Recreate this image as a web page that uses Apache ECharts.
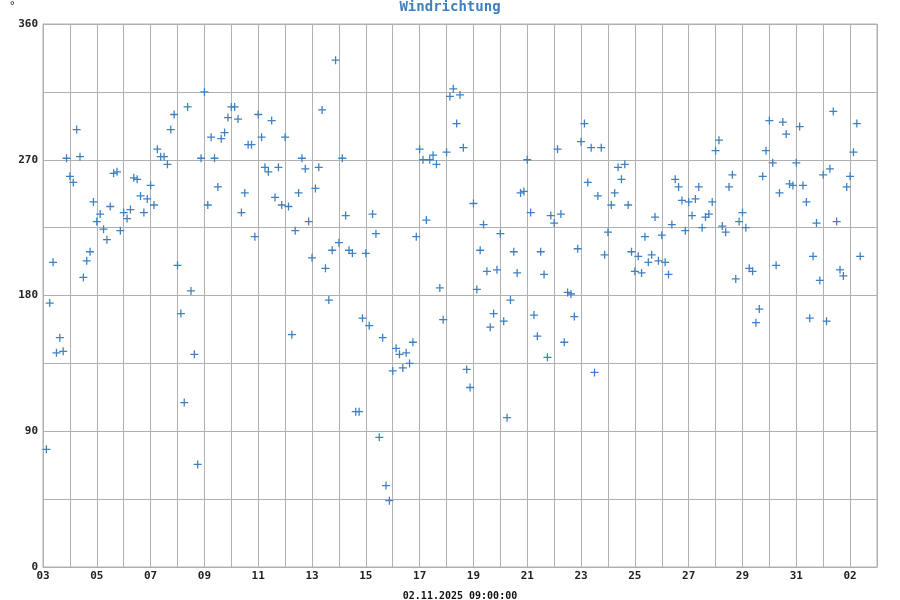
<!DOCTYPE html>
<html><head><meta charset="utf-8">
<script src="https://cdn.jsdelivr.net/npm/echarts@6/dist/echarts.min.js"></script>
<style>html,body{margin:0;padding:0;background:#fff}#c{width:900px;height:600px}</style>
</head><body><div id="c"></div>
<script>
// Chart text
const titleText = 'Windrichtung';
const xAxisName = '02.11.2025 09:00:00';
const yUnit = '°';
// Time: first reading Oct 3 2025 03:00 (UTC), one reading every 3 hours
const startTime = Date.UTC(2025, 9, 3, 3, 0, 0);
const stepHours = 3;
const axisStart = Date.UTC(2025, 9, 3);
const axisEnd = Date.UTC(2025, 10, 3);
const yTicks = [0, 90, 180, 270, 360];
// Wind direction values (degrees), in time order
const direction = [
 78,175,202,142,152,143,271,259,255,290,272,192,203,209,242,229,234,224,217,239,
 261,262,223,235,231,237,258,257,246,235,244,253,240,277,272,272,267,290,300,200,
 168,109,305,183,141,68,271,315,240,285,271,252,284,288,298,305,305,297,235,248,
 280,280,219,300,285,265,262,296,245,265,240,285,239,154,223,248,271,264,229,205,
 251,265,303,198,177,210,336,215,271,233,210,208,103,103,165,208,160,234,221,86,
 152,54,44,130,145,141,132,142,135,149,219,277,270,230,270,273,267,185,164,275,
 312,317,294,313,278,131,119,241,184,210,227,196,159,168,197,221,163,99,177,209,
 195,248,249,270,235,167,153,209,194,139,233,228,277,234,149,182,181,166,211,282,
 294,255,278,129,246,278,207,222,240,248,265,257,267,240,209,196,206,195,219,202,
 207,232,203,220,202,194,227,257,252,243,223,242,233,244,252,225,232,234,242,276,
 283,226,222,252,260,191,229,235,225,198,196,162,171,259,276,296,268,200,248,295,
 287,254,253,268,292,253,242,165,206,228,190,260,163,264,302,229,197,193,252,259,
 275,294,206
];

const DAY = 86400000;
const seriesData = direction.map((v, i) => [startTime + i * stepHours * 3600000, v]);
const labelFont = 'DejaVu Sans Mono';

const chart = echarts.init(document.getElementById('c'), null, {renderer: 'canvas'});
chart.setOption({
  animation: false,
  backgroundColor: '#fff',
  title: {
    text: titleText, left: 'center', top: -5,
    textStyle: {fontFamily: labelFont, fontWeight: 'bold', fontSize: 14, color: '#3f80c0'}
  },
  graphic: [{
    type: 'text', left: 9, top: 1,
    style: {text: yUnit, font: '11px "DejaVu Sans Mono"', fill: '#222'}
  }],
  grid: {left: 43, right: 23, top: 24, bottom: 33, outerBoundsMode: 'none', containLabel: false,
         show: true, borderColor: '#b0b0b0', borderWidth: 1},
  xAxis: {
    type: 'value', min: axisStart, max: axisEnd, interval: DAY,
    name: xAxisName, nameLocation: 'middle', nameGap: 24,
    nameTextStyle: {fontFamily: labelFont, fontWeight: 'bold', fontSize: 10, color: '#111'},
    axisLine: {show: true, lineStyle: {color: '#b0b0b0'}},
    axisTick: {show: false},
    splitLine: {show: true, lineStyle: {color: '#b0b0b0', width: 1}},
    axisLabel: {
      fontFamily: labelFont, fontWeight: 'bold', fontSize: 11, color: '#222', margin: 4,
      showMaxLabel: false,
      formatter: function (v) {
        const d = Math.round((v - axisStart) / DAY);
        if (d % 2 !== 0) return '';
        const day = new Date(v).getUTCDate();
        return (day < 10 ? '0' : '') + day;
      }
    }
  },
  yAxis: {
    type: 'value', min: 0, max: 360, interval: 45,
    axisLine: {show: true, lineStyle: {color: '#b0b0b0'}},
    axisTick: {show: false},
    splitLine: {show: true, lineStyle: {color: '#b0b0b0', width: 1}},
    axisLabel: {
      fontFamily: labelFont, fontWeight: 'bold', fontSize: 11, color: '#222', margin: 5,
      formatter: function (v) { return yTicks.indexOf(v) >= 0 ? String(v) : ''; }
    }
  },
  series: [{
    type: 'scatter',
    data: seriesData,
    symbol: 'path://M4.2,0h1.6v10h-1.6zM0,4.2h10v1.6h-10z',
    symbolSize: 8,
    itemStyle: {color: '#3f80c0', opacity: 1},
    emphasis: {disabled: true}
  }]
});
</script>
</body></html>
